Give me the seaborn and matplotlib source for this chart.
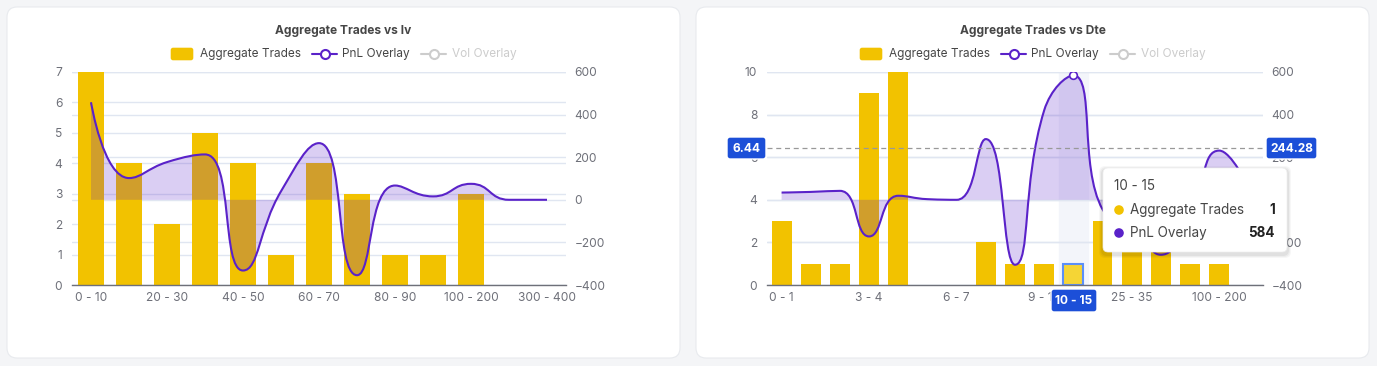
import numpy as np
import matplotlib
matplotlib.use('Agg')
import matplotlib.pyplot as plt
import seaborn as sns
from matplotlib.path import Path
from matplotlib.patches import PathPatch, FancyBboxPatch, Circle
from matplotlib.lines import Line2D
from matplotlib.transforms import IdentityTransform

# ---- data ----
iv_labels = ['0 - 10', '10 - 20', '20 - 30', '30 - 40', '40 - 50', '50 - 60', '60 - 70',
             '70 - 80', '80 - 90', '90 - 100', '100 - 200', '200 - 300', '300 - 400']
iv_trades = [7, 4, 2, 5, 4, 1, 4, 3, 1, 1, 3, 0, 0]
iv_pnl = [458, 102, 177, 213, -332, 40, 266, -354, 67, 16, 75, 0, 0]

dte_labels = ['0 - 1', '1 - 2', '2 - 3', '3 - 4', '4 - 5', '5 - 6', '6 - 7', '7 - 8', '8 - 9',
              '9 - 10', '10 - 15', '15 - 25', '25 - 35', '35 - 50', '50 - 100', '100 - 200', '200 - 300']
dte_trades = [3, 1, 1, 9, 10, 0, 0, 2, 1, 1, 1, 3, 2, 2, 1, 1, 0]
dte_pnl = [34, 37, 42, -172, 19, 3, 0, 285, -305, 420, 584, -45, -90, -258, -60, 231, 60]

# hover state shown on the Dte chart
hover_idx = 10
pointer_left = 6.44
pointer_right = 244.28

W, H = 1377, 366
YELLOW = '#f2c200'
PURPLE = '#5a22c9'
GREY_TXT = '#6e7079'
GRID = '#e0e6f1'
BLUE = '#1c4fd8'

sns.set_style('white')
plt.rcParams['font.family'] = ['Inter', 'DejaVu Sans']

fig = plt.figure(figsize=(W / 100, H / 100), dpi=100)
fig.patch.set_facecolor('#f4f5f7')
PX = IdentityTransform()


def box(x0, y0, x1, y1, fc, r=3, z=10, **kw):
    p = FancyBboxPatch((x0, H - y1), x1 - x0, y1 - y0,
                       boxstyle=f'round,pad=0,rounding_size={r}',
                       fc=fc, transform=PX, zorder=z, **kw)
    fig.add_artist(p)
    return p


def txt(x, y, s, **kw):
    kw.setdefault('zorder', 11)
    fig.text(x / W, 1 - y / H, s, **kw)


def smooth_path(ys, sx, sy, smooth=0.5):
    # echarts-style bezier smoothing (control points clamped, no overshoot)
    n = len(ys)
    pts = np.column_stack([np.arange(n) * sx, np.asarray(ys, float) * sy])
    verts = [pts[0]]
    cp0 = pts[0].copy()
    for k in range(1, n):
        x, y = pts[k]
        px_, py_ = pts[k - 1]
        if k == n - 1:
            cp1 = pts[k].copy()
            nxt = pts[k].copy()
        else:
            nx, ny = pts[k + 1]
            vx, vy = nx - px_, ny - py_
            lp = np.hypot(x - px_, y - py_)
            ln = np.hypot(nx - x, ny - y)
            ratio = ln / (ln + lp)
            ncx = np.clip(x + vx * smooth * ratio, min(nx, x), max(nx, x))
            ncy = np.clip(y + vy * smooth * ratio, min(ny, y), max(ny, y))
            vx, vy = ncx - x, ncy - y
            c1x = np.clip(x - vx * lp / ln, min(px_, x), max(px_, x))
            c1y = np.clip(y - vy * lp / ln, min(py_, y), max(py_, y))
            vx, vy = x - c1x, y - c1y
            cp1 = np.array([c1x, c1y])
            nxt = np.array([x + vx * ln / lp, y + vy * ln / lp])
        verts += [cp0, cp1, pts[k]]
        cp0 = nxt
    verts = np.array(verts) / [sx, sy]
    return verts


def draw_chart(ax_rect, labels, trades, pnl, ymax, step, title, off):
    n = len(labels)
    # card
    box(7 + off, 7, 680 + off, 358, 'white', r=10, z=-10, ec='#e8eaee', lw=0.8)
    txt(343.5 + off, 31, title, ha='center', va='center', fontsize=8.6,
        fontweight='bold', color='#464646')

    # legend
    box(170 + off, 47, 194 + off, 61, YELLOW, r=3)
    txt(200 + off, 54, 'Aggregate Trades', va='center', fontsize=8.5, color='#464646')
    for x0, col, lab, tx in [(312, PURPLE, 'PnL Overlay', 342), (421, '#cccccc', 'Vol Overlay', 452)]:
        fig.add_artist(Line2D([x0 + off, x0 + 25 + off], [H - 54, H - 54], color=col, lw=1.5,
                              transform=PX, zorder=10))
        fig.add_artist(Line2D([x0 + 12.5 + off], [H - 54], marker='o', ms=6.5, mfc='white',
                              mec=col, mew=1.5, transform=PX, zorder=11))
        txt(tx + off, 54, lab, va='center', fontsize=8.5,
            color='#464646' if col == PURPLE else '#cccccc')

    x0, y0, x1, y1 = ax_rect
    ax = fig.add_axes([x0 / W, 1 - y1 / H, (x1 - x0) / W, (y1 - y0) / H])
    ax.patch.set_alpha(0)
    sns.barplot(x=labels, y=trades, order=labels, ax=ax, color=YELLOW,
                saturation=1, width=0.68, linewidth=0, zorder=2)
    ax.set_xlim(-0.5, n - 0.5)
    ax.set_ylim(0, ymax)
    ax.set_xlabel('')
    ax.set_ylabel('')

    # horizontal grid for both axes (below the bars)
    for v in range(0, ymax + 1, 1 if ymax < 8 else 2):
        ax.axhline(v, color=GRID, lw=1, zorder=0.5)
    for v in range(-400, 601, 200):
        ax.axhline((v + 400) / 1000 * ymax, color=GRID, lw=1, zorder=0.5)

    # x axis: ticks on category boundaries, labels in the middle
    bounds = list(np.arange(-0.5, n - 0.5, step)) + [n - 0.5]
    ax.set_xticks(bounds)
    ax.set_xticklabels([''] * len(bounds))
    centers = list(range(0, n, step))
    ax.set_xticks(centers, minor=True)
    ax.set_xticklabels([labels[i] for i in centers], minor=True)
    ax.tick_params(axis='x', which='major', length=5, width=1, color=GREY_TXT, direction='out')
    ax.tick_params(axis='x', which='minor', length=0, pad=5, labelsize=8.6, labelcolor=GREY_TXT)
    ax.set_yticks(range(0, ymax + 1, 1 if ymax < 8 else 2))
    ax.tick_params(axis='y', length=0, pad=7, labelsize=8.6, labelcolor=GREY_TXT)
    for s in ['top', 'right', 'left']:
        ax.spines[s].set_visible(False)
    ax.spines['bottom'].set_color(GREY_TXT)
    ax.spines['bottom'].set_linewidth(1)

    # PnL overlay on the right axis
    ax2 = ax.twinx()
    ax2.set_ylim(-400, 600)
    ax2.set_yticks(range(-400, 601, 200))
    ax2.tick_params(axis='y', length=0, pad=6, labelsize=8.6, labelcolor=GREY_TXT)
    for s in ax2.spines.values():
        s.set_visible(False)
    sx = (x1 - x0) / n
    sy = (y1 - y0) / 1000
    verts = smooth_path(pnl, sx, sy)
    codes = [Path.MOVETO] + [Path.CURVE4] * (len(verts) - 1)
    fill_verts = np.vstack([verts, [[n - 1, 0], [0, 0], [0, 0]]])
    fill_codes = codes + [Path.LINETO, Path.LINETO, Path.CLOSEPOLY]
    ax2.add_patch(PathPatch(Path(fill_verts, fill_codes), fc=PURPLE, alpha=0.22, ec='none', zorder=3))
    ax2.add_patch(PathPatch(Path(verts, codes), fc='none', ec=PURPLE, lw=1.5, zorder=4))
    return ax, ax2


ax_a, ax_a2 = draw_chart((72, 72, 566, 285), iv_labels, iv_trades, iv_pnl, 7, 2,
                         'Aggregate Trades vs Iv', 0)
ax_b, ax_b2 = draw_chart((767, 72, 1263, 285), dte_labels, dte_trades, dte_pnl, 10, 3,
                         'Aggregate Trades vs Dte', 689)

# ---- hover state on the Dte chart ----
ax_b.axvspan(hover_idx - 0.5, hover_idx + 0.5, color='#f3f5fa', zorder=0.3)
hb = ax_b.containers[0].patches[hover_idx]
hb.set_facecolor('#f5d535')
hb.set_edgecolor('#5b8ff9')
hb.set_linewidth(1.5)
ax_b2.plot([hover_idx], [dte_pnl[hover_idx]], 'o', ms=5.5, mfc='white', mec=PURPLE, mew=1.2, zorder=6)
ax_b2.axhline(pointer_right, color='#999999', lw=0.9, ls=(0, (4, 3)), zorder=5)

for (bx0, by0, bx1, by1, s) in [(727, 137, 766, 159, f'{pointer_left:.2f}'),
                                (1266, 137, 1317, 159, f'{pointer_right:.2f}'),
                                (1051, 289, 1097, 312, dte_labels[hover_idx])]:
    box(bx0, by0, bx1, by1, BLUE, r=3, z=12)
    txt((bx0 + bx1) / 2, (by0 + by1) / 2 + 0.5, s, ha='center', va='center', fontsize=8.6,
        fontweight='bold', color='white', zorder=13)

# tooltip
for i, a in enumerate([0.03, 0.04, 0.05]):
    g = 4 - i
    box(1103 - g, 168 - g + 2, 1287 + g, 252 + g + 2, '#000000', r=6, z=13, alpha=a, ec='none')
box(1103, 168, 1287, 252, 'white', r=5, z=14, ec='#eeeeee', lw=0.5)
txt(1114, 186, dte_labels[hover_idx], va='center', fontsize=9.7, color='#464646', zorder=15)
for yy, col, lab, val in [(210, YELLOW, 'Aggregate Trades', dte_trades[hover_idx]),
                          (233, PURPLE, 'PnL Overlay', dte_pnl[hover_idx])]:
    fig.add_artist(Circle((1119, H - yy), 4.8, fc=col, ec='none', transform=PX, zorder=15))
    txt(1130, yy, lab, va='center', fontsize=9.7, color='#464646', zorder=15)
    txt(1275, yy, str(val), va='center', ha='right', fontsize=9.7, fontweight='bold',
        color='#222222', zorder=15)

fig.savefig('out.png', dpi=100)
